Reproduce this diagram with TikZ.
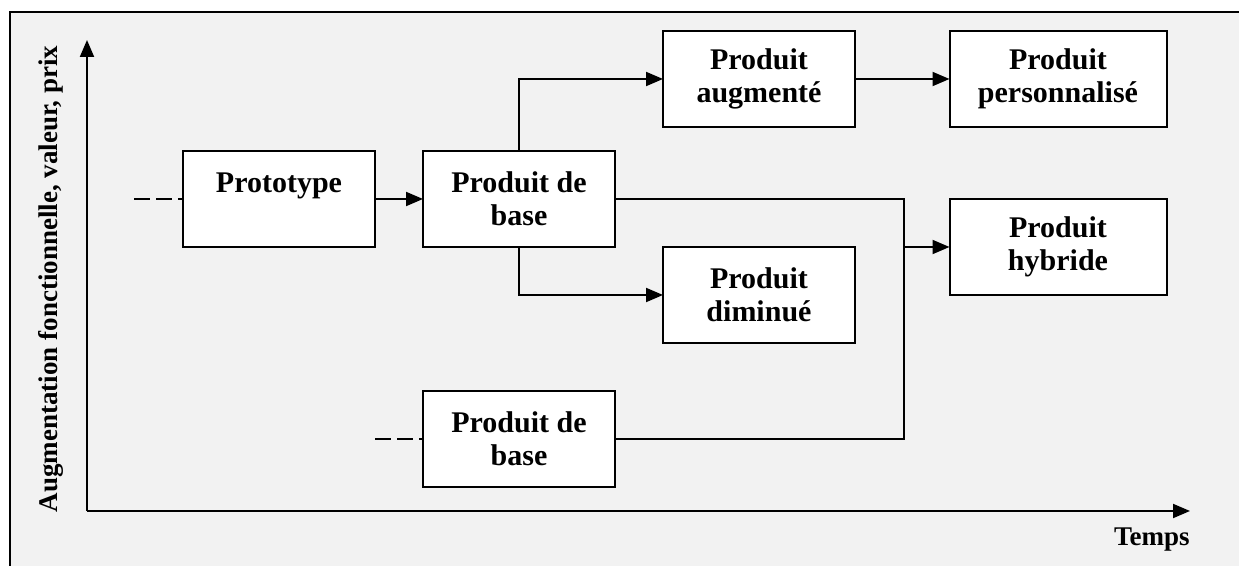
\documentclass[tikz,border=0pt]{standalone}
\usepackage{fontspec}
\setmainfont{Liberation Serif}
\usetikzlibrary{arrows.meta}
\tikzset{
  box/.style={draw, fill=white, line width=1pt, minimum width=96pt, minimum height=48pt,
    inner sep=0pt, outer sep=0pt, align=center, font=\bfseries\fontsize{15}{16.5}\selectfont},
  widebox/.style={box, minimum width=108.5pt},
  axislabel/.style={font=\bfseries\fontsize{13.5}{15}\selectfont, inner sep=0pt},
  tip/.style={-{Triangle[length=8.5pt,width=7pt]}, line width=1pt},
  link/.style={line width=1pt},
  lead/.style={line width=1pt, dash pattern=on 8pt off 3pt}
}
\begin{document}
\begin{tikzpicture}[x=0.5pt, y=-0.5pt]
  \useasboundingbox (0,0) rectangle (1239,566);
  % background and frame
  \fill[gray!10] (10,12) rectangle (1239,566);
  \draw[line width=1pt] (10,566) -- (10,12) -- (1239,12);
  % axes
  \coordinate (o) at (87,511);
  \coordinate (ytop) at (87,40);
  \coordinate (xend) at (1190,511);
  \draw[tip] (o) -- (ytop);
  \draw[tip] (o) -- (xend);
  \node[axislabel, rotate=90] (ylab) at (51,279) {Augmentation fonctionnelle, valeur, prix};
  \node[axislabel, anchor=north east] (xlab) at (1190,527) {Temps};
  % boxes
  \node[box] (proto) at (279,199) {Prototype\\~};
  \node[box] (base1) at (519,199) {Produit de\\base};
  \node[box] (augm) at (759,79) {Produit\\augment\'e};
  \node[widebox] (perso) at (1058,79) {Produit\\personnalis\'e};
  \node[box] (dimi) at (759,295) {Produit\\diminu\'e};
  \node[widebox] (hybr) at (1058,247) {Produit\\hybride};
  \node[box] (base2) at (519,439) {Produit de\\base};
  % leads
  \coordinate (p0) at (134,199);
  \coordinate (p1) at (375,439);
  \draw[lead] (p0) -- (proto.west);
  \draw[lead] (p1) -- (base2.west);
  % links
  \coordinate (merge) at (904,247);
  \draw[tip] (proto.east) -- (base1.west);
  \draw[tip] (base1.north) |- (augm.west);
  \draw[tip] (base1.south) |- (dimi.west);
  \draw[tip] (augm.east) -- (perso.west);
  \draw[link] (base1.east) -| (merge);
  \draw[link] (base2.east) -| (merge);
  \draw[tip] (merge) -- (hybr.west);
\end{tikzpicture}
\end{document}
